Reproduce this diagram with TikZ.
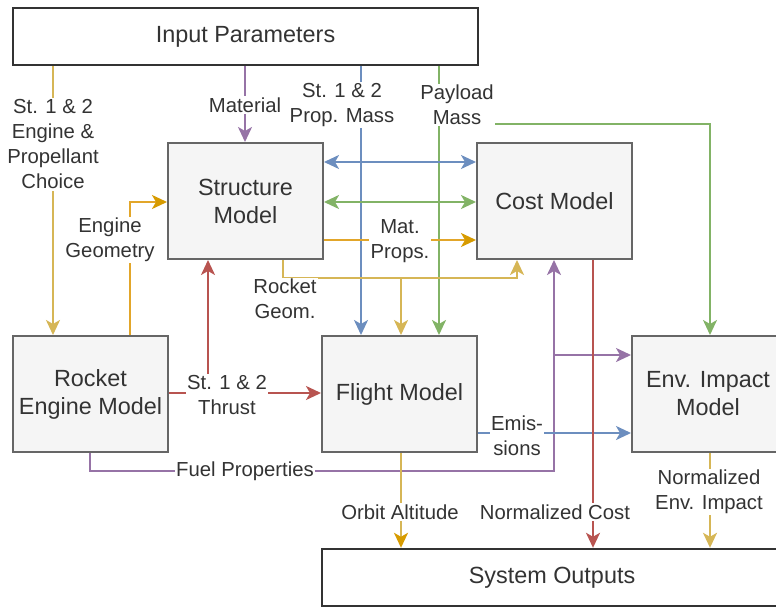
\documentclass[tikz,border=0pt]{standalone}
\usepackage{fontspec}
\setmainfont{Liberation Sans}
\usetikzlibrary{arrows.meta,backgrounds}
\definecolor{yl}{HTML}{D6B656}
\definecolor{og}{HTML}{D79B00}
\definecolor{om}{HTML}{E2A62A}
\definecolor{bl}{HTML}{6C8EBF}
\definecolor{gr}{HTML}{82B366}
\definecolor{pu}{HTML}{9673A6}
\definecolor{rd}{HTML}{B85450}
\definecolor{txt}{HTML}{333333}
\tikzset{
  model/.style={draw=black!60, fill=black!4, line width=2pt, text=txt, align=center,
    minimum width=155pt, minimum height=116pt, font=\fontsize{23.4}{28}\selectfont},
  iobox/.style={draw=black!80, fill=white, line width=2.4pt, text=txt, align=center,
    minimum height=57pt, font=\fontsize{23.4}{28}\selectfont},
  lab/.style={fill=white, text=txt, align=center, inner sep=1.5pt,
    font=\fontsize{20.3}{25}\selectfont},
  conn/.style={line width=2.1pt},
  tp/.tip={Stealth[length=15pt,width=14pt,inset=4pt]},
}
\begin{document}
\begin{tikzpicture}[x=1pt,y=-1pt]
\useasboundingbox (0,0) rectangle (776,607);
% boxes
\node[iobox, minimum width=465pt] (inp) at (245.5,36.5) {Input Parameters};
\node[iobox, minimum width=460pt] (out) at (552,577.5) {System Outputs};
\node[model] (struct) at (245.5,201) {Structure\\Model};
\node[model] (cost) at (554.5,201) {Cost Model};
\node[model] (ree) at (90.5,394) {Rocket\\Engine Model};
\node[model] (flight) at (399.5,394) {Flight Model};
\node[model, minimum width=152pt] (env) at (708,394) {Env. Impact\\Model};
% labels
\node[lab] (lChoice) at (53,144.5) {St. 1 \& 2\\Engine \&\\Propellant\\Choice};
\node[lab] (lMat) at (245,105) {Material};
\node[lab] (lPM) at (342,105) {St. 1 \& 2\\Prop. Mass};
\node[lab] (lPay) at (457,105) {Payload\\Mass};
\node[lab] (lEG) at (110,240) {Engine\\Geometry};
\node[lab] (lMP) at (400,241) {Mat.\\Props.};
\node[lab] (lRG) at (285,299) {Rocket\\Geom.};
\node[lab] (lThr) at (227,395) {St. 1 \& 2\\Thrust};
\node[lab] (lFuel) at (245,471) {Fuel Properties};
\node[lab] (lEm) at (517,436) {Emis-\\sions};
\node[lab] (lOrb) at (400,512) {Orbit Altitude};
\node[lab] (lNC) at (555,512) {Normalized Cost};
\node[lab] (lNE) at (709,492) {Normalized\\Env. Impact};
% helper coordinates
\coordinate (xCh) at (53,0);
\coordinate (xMat) at (245,0);
\coordinate (xPM) at (361,0);
\coordinate (xPay) at (439,0);
\coordinate (xEG) at (130,0);
\coordinate (xRG) at (283,0);
\coordinate (xFl) at (401,0);
\coordinate (xCU) at (517,0);
\coordinate (xThr) at (208,0);
\coordinate (xFu) at (90,0);
\coordinate (xFuV) at (554,0);
\coordinate (xNC) at (593,0);
\coordinate (xEnv) at (710,0);
\coordinate (yB) at (0,162);
\coordinate (yG) at (0,202);
\coordinate (yMP) at (0,240);
\coordinate (yRG) at (0,278);
\coordinate (yEnvIn) at (0,355);
\coordinate (yThr) at (0,393);
\coordinate (yEm) at (0,433);
\coordinate (yFu) at (0,471);
\coordinate (pPay) at (495,124);
\begin{scope}[on background layer]
% input parameter edges
\draw[conn, yl, -tp] (inp.south -| xCh) -- (ree.north -| xCh);
\draw[conn, pu, -tp] (inp.south -| xMat) -- (struct.north -| xMat);
\draw[conn, bl, -tp] (inp.south -| xPM) -- (flight.north -| xPM);
\draw[conn, gr, -tp] (inp.south -| xPay) -- (flight.north -| xPay);
\draw[conn, gr, -tp] (pPay) -| (env.north -| xEnv);
% structure <-> cost
\draw[conn, bl, tp-tp] (struct.east |- yB) -- (cost.west |- yB);
\draw[conn, gr, tp-tp] (struct.east |- yG) -- (cost.west |- yG);
\draw[conn, om, -{Stealth[length=15pt,width=14pt,inset=4pt,color=og]}] (struct.east |- yMP) -- (cost.west |- yMP);
% rocket geometry
\draw[conn, yl, -tp] (struct.south -| xRG) |- (xCU |- yRG) -- (cost.south -| xCU);
\draw[conn, yl, -tp] (xFl |- yRG) -- (flight.north -| xFl);
% engine geometry
\draw[conn, om, -{Stealth[length=15pt,width=14pt,inset=4pt,color=og]}] (ree.north -| xEG) |- (struct.west |- yG);
% thrust
\draw[conn, rd, -tp] (ree.east |- yThr) -- (flight.west |- yThr);
\draw[conn, rd, -tp] (lThr.north -| xThr) -- (struct.south -| xThr);
% fuel properties
\draw[conn, pu, -tp] (ree.south -| xFu) |- (xFuV |- yFu) -- (cost.south -| xFuV);
\draw[conn, pu, -tp] (xFuV |- yEnvIn) -- (env.west |- yEnvIn);
% emissions
\draw[conn, bl, -tp] (flight.east |- yEm) -- (env.west |- yEm);
% outputs
\draw[conn, yl, -{Stealth[length=15pt,width=14pt,inset=4pt,color=og]}] (flight.south -| xFl) -- (out.north -| xFl);
\draw[conn, rd, -tp] (cost.south -| xNC) -- (out.north -| xNC);
\draw[conn, yl, -tp] (env.south -| xEnv) -- (out.north -| xEnv);
\end{scope}
\end{tikzpicture}
\end{document}
